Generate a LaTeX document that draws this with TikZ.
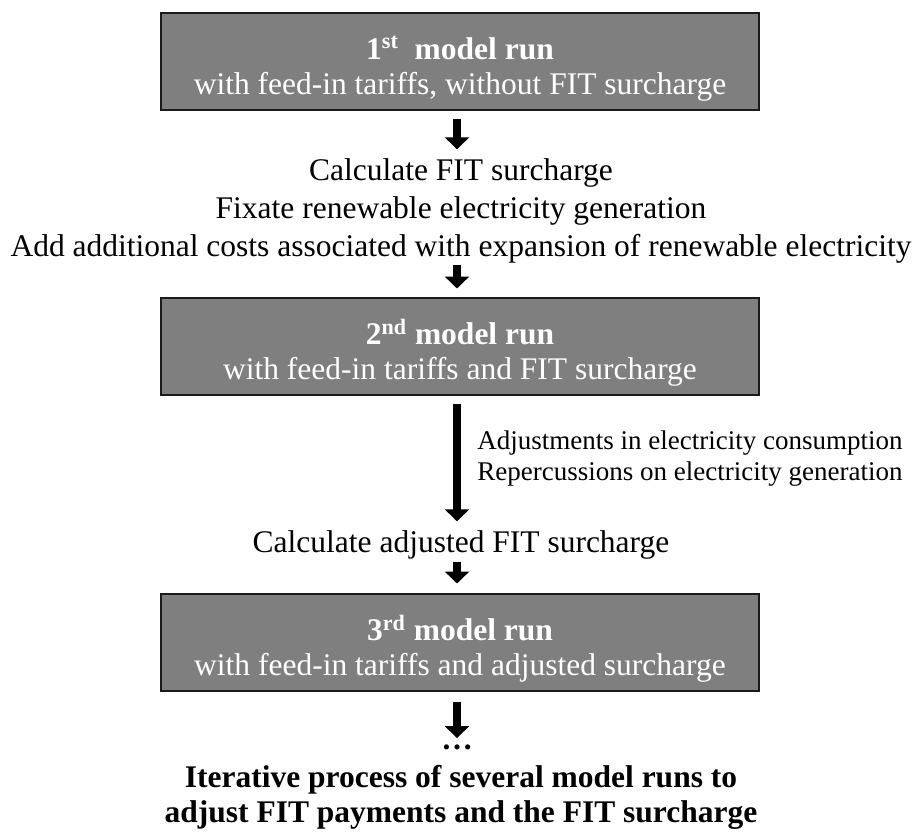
\documentclass[tikz,border=0pt]{standalone}
\usepackage{fontspec}
\setmainfont{Liberation Serif}
\usetikzlibrary{arrows.meta,calc}
\definecolor{runfill}{HTML}{7F7F7F}
\definecolor{runedge}{HTML}{1A1A1A}
\begin{document}
\begin{tikzpicture}[x=0.5pt,y=-0.5pt,
  runbox/.style={draw=runedge, line width=1pt, fill=runfill,
    minimum width=299pt, minimum height=48.5pt, inner sep=0pt},
  runtext/.style={text=white, align=center, inner sep=0pt,
    font=\fontsize{15.75}{17.5}\selectfont},
  stepnote/.style={align=center, inner sep=0pt, font=\fontsize{15.75}{19}\selectfont},
  sidenote/.style={align=left, anchor=west, inner sep=0pt, font=\fontsize{13.5}{15.5}\selectfont},
  boldnote/.style={align=center, inner sep=0pt, font=\fontsize{15.75}{17.5}\selectfont\bfseries},
  bigarrow/.style={line width=4pt, -{Triangle[width=12pt,length=6pt]}}]
\useasboundingbox (0,0) rectangle (922,840);

% column of the arrows
\coordinate (ax) at (457,0);

% model runs: box and its two lines
\node[runbox] (run1) at (460,61.5) {};
\node[runtext] (run1t) at ($(run1.center)+(0,7)$)
  {\textbf{1\textsuperscript{st}~~model run}\\with feed-in tariffs, without FIT surcharge};

\node[runbox] (run2) at (460,346) {};
\node[runtext] (run2t) at ($(run2.center)+(0,7)$)
  {\textbf{2\textsuperscript{nd} model run}\\with feed-in tariffs and FIT surcharge};

\node[runbox] (run3) at (460,642) {};
\node[runtext] (run3t) at ($(run3.center)+(0,7)$)
  {\textbf{3\textsuperscript{rd} model run}\\with feed-in tariffs and adjusted surcharge};

% steps between the runs
\node[stepnote] (calc1) at (461,211)
  {Calculate FIT surcharge\\Fixate renewable electricity generation\\Add additional costs associated with expansion of renewable electricity};

\node[stepnote] (calc2) at (461,545) {Calculate adjusted FIT surcharge};

\node[sidenote] (adj) at (477,458.5)
  {Adjustments in electricity consumption\\Repercussions on electricity generation};

\node[boldnote] (dots) at (457,747) {…};

\node[boldnote] (iter) at (461,797.5)
  {Iterative process of several model runs to\\adjust FIT payments and the FIT surcharge};

% arrows between the steps
\draw[bigarrow, shorten <=4pt, shorten >=4.5pt] (run1.south -| ax) -- (calc1.north -| ax);
\draw[bigarrow, shorten <=0.5pt, shorten >=4pt] (calc1.south -| ax) -- (run2.north -| ax);
\draw[bigarrow, shorten <=4pt, shorten >=4.5pt] (run2.south -| ax) -- (calc2.north -| ax);
\draw[bigarrow, shorten <=1pt, shorten >=4.5pt] (calc2.south -| ax) -- (run3.north -| ax);
\draw[bigarrow, shorten <=5pt, shorten >=3pt] (run3.south -| ax) -- (dots.north -| ax);
\end{tikzpicture}
\end{document}
